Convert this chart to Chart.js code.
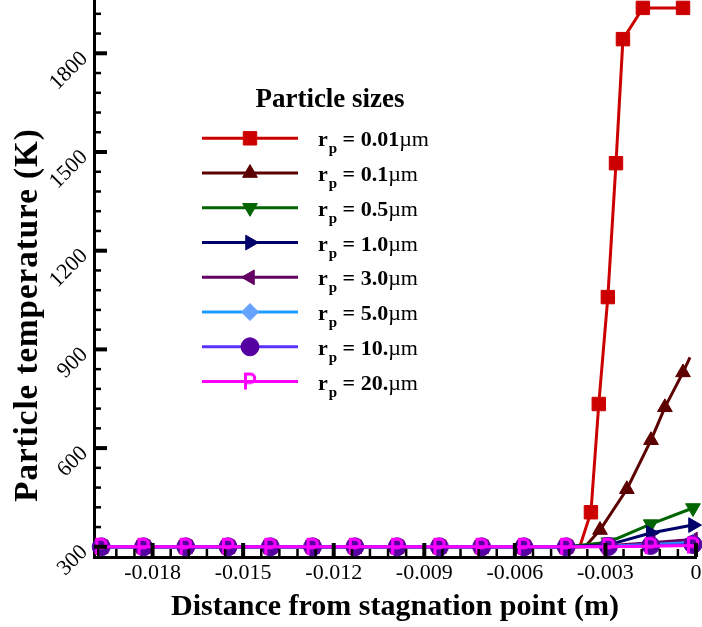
<!DOCTYPE html>
<html lang="en">
<head>
<meta charset="UTF-8">
<title>Particle temperature vs distance</title>
<script src="https://cdn.jsdelivr.net/npm/chart.js"></script>
<style>
  html, body { margin: 0; padding: 0; background: #fff; }
  canvas { display: block; }
</style>
</head>
<body>
<canvas id="tempChart" width="702" height="627"></canvas>
<script>
// upstream of the front every particle size stays at the 300 K inflow temperature
const upstreamX = [-0.0197, -0.0183, -0.0169, -0.0155, -0.0141, -0.0127, -0.0113, -0.0099, -0.0085, -0.0071, -0.0057, -0.0043];
const upstreamT = [300, 300, 300, 300, 300, 300, 300, 300, 300, 300, 300, 300];

// heating close to the stagnation point, one pair per particle radius
const r001X = [-0.00385, -0.00348, -0.00322, -0.00292, -0.00265, -0.00242, -0.00176, -0.00043];
const r001T = [300, 405, 734, 1059, 1466, 1843, 1938, 1938];
const r01X = [-0.00368, -0.00318, -0.00229, -0.00149, -0.00103, -0.00043, -0.0002];
const r01T = [300, 351, 475, 624, 724, 830, 876];
const r05X = [-0.0029, -0.0015, -0.0001];
const r05T = [314, 369, 418];
const r1X = [-0.0029, -0.0015, -0.0001];
const r1T = [306, 342, 366];
const r3X = [-0.0029, -0.0015, -0.0001];
const r3T = [303, 312, 322];
const r5X = [-0.0029, -0.0015, -0.0001];
const r5T = [302, 307, 313];
const r10X = [-0.0029, -0.0015, -0.0001];
const r10T = [301, 304, 307];
const r20X = [-0.0029, -0.0015, -0.0001];
const r20T = [300, 302, 304];

const sizeLabels = ['0.01', '0.1', '0.5', '1.0', '3.0', '5.0', '10.', '20.'];
const xTicks = [-0.018, -0.015, -0.012, -0.009, -0.006, -0.003, 0];
const yTicks = [300, 600, 900, 1200, 1500, 1800];

const SERIF = '"Liberation Serif", "Times New Roman", serif';

// stroked magenta "P" symbol used for the 20 um particles
function pSymbol() {
    const c = document.createElement('canvas');
    c.width = 20;
    c.height = 22;
    const g = c.getContext('2d');
    g.strokeStyle = '#ff00ff';
    g.lineWidth = 3;
    g.lineCap = 'butt';
    g.beginPath();
    g.moveTo(5.5, 19);
    g.lineTo(5.5, 3.5);
    g.lineTo(10.5, 3.5);
    g.arc(10.5, 7.75, 4.25, -Math.PI / 2, Math.PI / 2);
    g.lineTo(5.5, 12);
    g.stroke();
    return c;
}

const series = [
    { x: r001X, t: r001T, bare: [-0.00385], line: '#cc0000', fill: '#cc0000', style: 'rect', rot: 0, r: 9.5 },
    { x: r01X, t: r01T, bare: [-0.00368, -0.0002], line: '#5c0000', fill: '#5c0000', style: 'triangle', rot: 0, r: 8.5 },
    { x: r05X, t: r05T, bare: [], line: '#006400', fill: '#006400', style: 'triangle', rot: 180, r: 8.5 },
    { x: r1X, t: r1T, bare: [], line: '#00006a', fill: '#00006a', style: 'triangle', rot: 90, r: 8.5 },
    { x: r3X, t: r3T, bare: [], line: '#640064', fill: '#640064', style: 'triangle', rot: 270, r: 8.5 },
    { x: r5X, t: r5T, bare: [], line: '#1e9bff', fill: '#66a3ff', style: 'rectRot', rot: 0, r: 8.5 },
    { x: r10X, t: r10T, bare: [], line: '#5a32ff', fill: '#5500a0', style: 'circle', rot: 0, r: 9 },
    { x: r20X, t: r20T, bare: [], line: '#ff00ff', fill: '#ff00ff', style: pSymbol(), rot: 0, r: 9 }
];

const datasets = series.map((s, i) => {
    const xs = upstreamX.concat(s.x);
    const ts = upstreamT.concat(s.t);
    return {
        label: 'rp = ' + sizeLabels[i] + 'µm',
        data: xs.map((x, k) => ({ x: x, y: ts[k] })),
        borderColor: s.line,
        borderWidth: 3,
        pointStyle: s.style,
        pointRotation: s.rot,
        pointRadius: xs.map(x => s.bare.includes(x) ? 0 : s.r),
        pointBackgroundColor: s.fill,
        pointBorderColor: s.fill,
        pointBorderWidth: 1,
        tension: 0,
        clip: false,
        order: 7 - i
    };
});

// inward major/minor tick marks, drawn over the symbols
const tickMarks = {
    id: 'tickMarks',
    afterDatasetsDraw(chart) {
        const ctx = chart.ctx;
        const xs = chart.scales.x, ys = chart.scales.y;
        const left = chart.chartArea.left, bottom = chart.chartArea.bottom;
        ctx.save();
        ctx.fillStyle = '#000';
        for (let v = 300; v <= ys.max; v += 60) {
            const py = ys.getPixelForValue(v);
            if (v % 300 === 0) ctx.fillRect(left, py - 2, 13, 4);
            else ctx.fillRect(left, py - 1.25, 7, 2.5);
        }
        for (let k = 0; -k * 0.0006 >= xs.min; k++) {
            const px = xs.getPixelForValue(-k * 0.0006);
            if (k % 5 === 0) ctx.fillRect(px - 2, bottom - 14, 4, 14);
            else ctx.fillRect(px - 1.25, bottom - 8, 2.5, 8);
        }
        ctx.restore();
    }
};

// legend block and the rotated y-axis title
const legendBox = {
    id: 'legendBox',
    afterDraw(chart) {
        const ctx = chart.ctx;
        ctx.save();
        ctx.fillStyle = '#000';
        ctx.textBaseline = 'alphabetic';

        ctx.save();
        ctx.translate(37, 315);
        ctx.rotate(-Math.PI / 2);
        ctx.textAlign = 'center';
        ctx.font = 'bold 33px ' + SERIF;
        ctx.letterSpacing = '1px';
        ctx.fillText('Particle temperature (K)', 0, 0);
        ctx.restore();

        ctx.textAlign = 'center';
        ctx.font = 'bold 27px ' + SERIF;
        ctx.fillText('Particle sizes', 330, 107);

        chart.data.datasets.forEach((ds, i) => {
            const s = series[i];
            const y = 138.3 + i * 34.75;
            ctx.strokeStyle = ds.borderColor;
            ctx.lineWidth = 3;
            ctx.beginPath();
            ctx.moveTo(202, y);
            ctx.lineTo(298, y);
            ctx.stroke();

            ctx.fillStyle = s.fill;
            ctx.strokeStyle = s.fill;
            ctx.lineWidth = 1;
            Chart.helpers.drawPoint(ctx, { pointStyle: s.style, rotation: s.rot, radius: s.r, borderWidth: 1 }, 250, y);

            const base = y + 8;
            let tx = 318;
            ctx.fillStyle = '#000';
            ctx.textAlign = 'left';
            ctx.font = 'bold 22px ' + SERIF;
            ctx.fillText('r', tx, base);
            tx += ctx.measureText('r').width;
            ctx.font = 'bold 15px ' + SERIF;
            ctx.fillText('p', tx + 1, base + 7);
            tx += ctx.measureText('p').width + 1;
            ctx.font = 'bold 22px ' + SERIF;
            const mid = ' = ' + sizeLabels[i];
            ctx.fillText(mid, tx, base);
            tx += ctx.measureText(mid).width;
            ctx.font = '22px ' + SERIF;
            ctx.fillText('µm', tx, base);
        });
        ctx.restore();
    }
};

new Chart(document.getElementById('tempChart'), {
    type: 'line',
    data: { datasets: datasets },
    plugins: [tickMarks, legendBox],
    options: {
        responsive: false,
        animation: false,
        layout: { autoPadding: false, padding: { top: 0, right: 6, bottom: 0, left: 0 } },
        plugins: {
            legend: { display: false },
            tooltip: { enabled: false }
        },
        scales: {
            x: {
                type: 'linear',
                min: -0.01994,
                max: 0,
                grid: { display: false, drawTicks: false },
                border: { display: true, color: '#000', width: 3 },
                afterBuildTicks: s => { s.ticks = xTicks.map(v => ({ value: v })); },
                afterFit: s => { s.height = 70; s.paddingLeft = 0; s.paddingRight = 0; },
                ticks: {
                    autoSkip: false,
                    minRotation: 0,
                    maxRotation: 0,
                    padding: 3,
                    color: '#000',
                    font: { family: SERIF, size: 22 },
                    callback: v => v === 0 ? '0' : v.toFixed(3)
                },
                title: {
                    display: true,
                    text: 'Distance from stagnation point (m)',
                    color: '#000',
                    font: { family: SERIF, size: 30, weight: 'bold' },
                    padding: { top: 0, bottom: 2 }
                }
            },
            y: {
                type: 'linear',
                min: 269,
                max: 1962,
                grid: { display: false, drawTicks: false },
                border: { display: true, color: '#000', width: 3 },
                afterBuildTicks: s => { s.ticks = yTicks.map(v => ({ value: v })); },
                afterFit: s => { s.width = 94; s.paddingTop = 0; s.paddingBottom = 0; },
                ticks: {
                    autoSkip: false,
                    minRotation: 45,
                    maxRotation: 45,
                    padding: 9.5,
                    labelOffset: 2,
                    color: '#000',
                    font: { family: SERIF, size: 22 },
                    callback: v => String(v)
                }
            }
        }
    }
});
</script>
</body>
</html>
